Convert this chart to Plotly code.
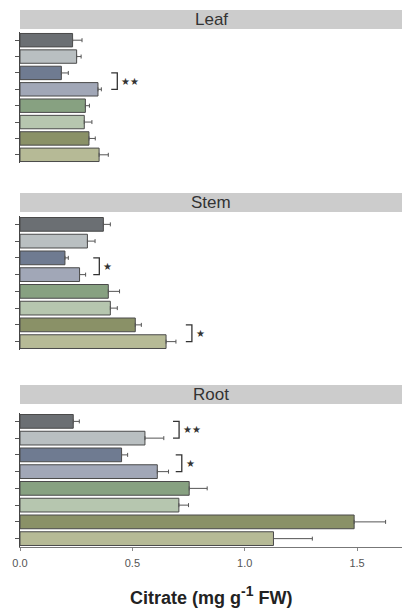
import plotly.graph_objects as go

# Tissues and citrate content (mg g-1 FW), 8 lines per tissue, top to bottom
tissues = ["Leaf", "Stem", "Root"]
bar_colors = ["#6b6f73", "#b9bfc1", "#6f7b91", "#a1a7b7",
              "#87a181", "#b6c6af", "#8a9167", "#b6ba96"]

leaf_mean = [0.234, 0.252, 0.184, 0.347, 0.291, 0.286, 0.307, 0.352]
leaf_err = [0.042, 0.020, 0.031, 0.015, 0.018, 0.034, 0.028, 0.041]

stem_mean = [0.371, 0.300, 0.200, 0.265, 0.393, 0.402, 0.513, 0.650]
stem_err = [0.031, 0.034, 0.015, 0.027, 0.050, 0.031, 0.027, 0.044]

root_mean = [0.237, 0.556, 0.452, 0.611, 0.753, 0.707, 1.487, 1.128]
root_err = [0.027, 0.084, 0.027, 0.050, 0.080, 0.043, 0.140, 0.173]

# significance brackets: (panel, first bar, second bar, bracket x, label)
brackets = [
    (0, 2, 3, 0.433, "★★"),
    (1, 2, 3, 0.353, "★"),
    (1, 6, 7, 0.765, "★"),
    (2, 0, 1, 0.708, "★★"),
    (2, 2, 3, 0.720, "★"),
]

means = [leaf_mean, stem_mean, root_mean]
errs = [leaf_err, stem_err, root_err]

W, H = 410, 612
def py(px):
    return 1 - px / H

plot_px = [(32, 163), (216, 350), (413, 547)]
strip_px = [(10, 29), (193, 212), (385, 404)]

fig = go.Figure()
font = "Liberation Sans, Arial, sans-serif"

for i in range(3):
    ax = "" if i == 0 else str(i + 1)
    fig.add_trace(go.Bar(
        x=means[i], y=list(range(8)), orientation="h",
        marker=dict(color=bar_colors, line=dict(color="#4a4a4a", width=1)),
        error_x=dict(type="data", symmetric=False, array=errs[i],
                     arrayminus=[0] * 8, color="#555555", thickness=1, width=2),
        xaxis="x" + ax, yaxis="y" + ax, showlegend=False,
    ))
    top, bot = plot_px[i]
    last = i == 2
    fig.layout["xaxis" + ax] = dict(
        domain=[0, 1], range=[0, 1.7], anchor="y" + ax,
        showgrid=False, zeroline=False,
        showline=last, linecolor="#777777", linewidth=1,
        ticks="outside" if last else "", ticklen=3, tickcolor="#888888",
        tickvals=[0, 0.5, 1.0, 1.5], tickformat=".1f",
        showticklabels=last, ticklabelstandoff=3,
        tickfont=dict(family=font, size=11, color="#555555"),
    )
    fig.layout["yaxis" + ax] = dict(
        domain=[py(bot), py(top)], range=[7.5, -0.5], anchor="x" + ax,
        showgrid=False, zeroline=False,
        showline=True, linecolor="#444444", linewidth=1,
        ticks="outside", ticklen=4, tickcolor="#555555",
        tickvals=list(range(8)), showticklabels=False,
    )
    s0, s1 = strip_px[i]
    fig.add_shape(type="rect", xref="paper", yref="paper",
                  x0=0, x1=1, y0=py(s1), y1=py(s0),
                  fillcolor="#cccccc", line=dict(width=0), layer="below")
    fig.add_annotation(xref="paper", yref="paper", x=0.5, y=py((s0 + s1) / 2),
                       text=tissues[i], showarrow=False, yanchor="middle",
                       font=dict(family=font, size=17, color="#333333"))

for panel, a, b, bx, label in brackets:
    ax = "" if panel == 0 else str(panel + 1)
    fig.add_shape(type="path", xref="x" + ax, yref="y" + ax,
                  path=f"M {bx - 0.027},{a} L {bx},{a} L {bx},{b} L {bx - 0.027},{b}",
                  line=dict(color="#333333", width=1.3))
    fig.add_annotation(xref="x" + ax, yref="y" + ax, x=bx + 0.008, y=(a + b) / 2,
                       text=label, showarrow=False, xanchor="left", yanchor="middle",
                       font=dict(family="DejaVu Sans", size=10, color="#333333"))

fig.add_annotation(xref="paper", yref="paper", x=0.5, y=py(595),
                   text="<b>Citrate (mg g<sup><span style='font-size:14px'>-1</span></sup> FW)</b>",
                   showarrow=False, yanchor="middle",
                   font=dict(family=font, size=18, color="#222222"))

fig.update_layout(
    width=W, height=H, bargap=0.18,
    margin=dict(l=20, r=8, t=0, b=0),
    plot_bgcolor="white", paper_bgcolor="white",
)

fig.write_html("out.html")
